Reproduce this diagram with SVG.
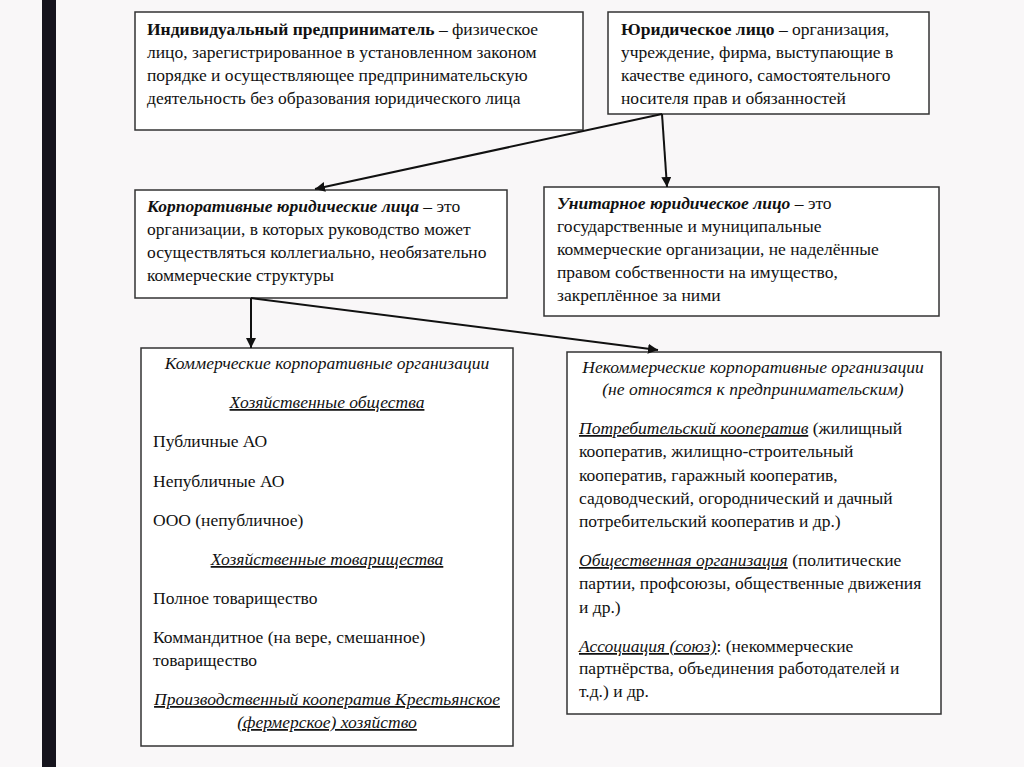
<svg xmlns="http://www.w3.org/2000/svg" width="1024" height="767" viewBox="0 0 1024 767">
<defs>
<style>
.bg{fill:#f9f7f8}
.box{fill:#ffffff;stroke:#333333;stroke-width:1.5}
.t text{font-size:17.5px;fill:#111111}
.b{font-weight:bold}
.i{font-style:italic}
.u{text-decoration:underline}
.c{text-anchor:middle}
.ln{stroke:#111111;stroke-width:2;fill:none}
</style>
<marker id="ah" viewBox="0 0 10 10" refX="10" refY="5" markerWidth="10" markerHeight="10" markerUnits="userSpaceOnUse" orient="auto">
<path d="M0,0 L10,5 L0,10 Z" fill="#111111"/>
</marker>
</defs>
<rect class="bg" x="0" y="0" width="1024" height="767"/>
<rect x="42" y="0" width="14" height="767" fill="#16141d"/>

<g class="t" font-family="'Liberation Serif', 'DejaVu Serif', serif">
<g id="node-ip">
<rect class="box" x="135" y="12" width="448" height="118"/>
<text x="147" y="35"><tspan class="b">Индивидуальный предприниматель</tspan> – физическое</text>
<text x="147" y="58">лицо, зарегистрированное в установленном законом</text>
<text x="147" y="81">порядке и осуществляющее предпринимательскую</text>
<text x="147" y="104">деятельность без образования юридического лица</text>
</g>

<g id="node-yl">
<rect class="box" x="608" y="12" width="321" height="102"/>
<text x="621" y="35"><tspan class="b">Юридическое лицо</tspan> – организация,</text>
<text x="621" y="58">учреждение, фирма, выступающие в</text>
<text x="621" y="81">качестве единого, самостоятельного</text>
<text x="621" y="104">носителя прав и обязанностей</text>
</g>

<g id="node-corp">
<rect class="box" x="135" y="190" width="372" height="108"/>
<text x="147" y="212"><tspan class="b i">Корпоративные юридические лица</tspan> – это</text>
<text x="147" y="235">организации, в которых руководство может</text>
<text x="147" y="258">осуществляться коллегиально, необязательно</text>
<text x="147" y="281">коммерческие структуры</text>
</g>

<g id="node-unit">
<rect class="box" x="544" y="187" width="395" height="129"/>
<text x="557" y="209"><tspan class="b i">Унитарное юридическое лицо</tspan> – это</text>
<text x="557" y="232">государственные и муниципальные</text>
<text x="557" y="255">коммерческие организации, не наделённые</text>
<text x="557" y="278">правом собственности на имущество,</text>
<text x="557" y="301">закреплённое за ними</text>
</g>

<g id="node-comm">
<rect class="box" x="141" y="348" width="372" height="398"/>
<text class="i c" x="327" y="369">Коммерческие корпоративные организации</text>
<text class="i u c" x="327" y="408">Хозяйственные общества</text>
<text x="153" y="447">Публичные АО</text>
<text x="153" y="487">Непубличные АО</text>
<text x="153" y="526">ООО (непубличное)</text>
<text class="i u c" x="327" y="565">Хозяйственные товарищества</text>
<text x="153" y="604">Полное товарищество</text>
<text x="153" y="643">Коммандитное (на вере, смешанное)</text>
<text x="153" y="666">товарищество</text>
<text class="i u c" x="327" y="705">Производственный кооператив Крестьянское</text>
<text class="i u c" x="327" y="728">(фермерское) хозяйство</text>
</g>

<g id="node-noncomm">
<rect class="box" x="567" y="352" width="374" height="362"/>
<text class="i c" x="753" y="373">Некоммерческие корпоративные организации</text>
<text class="i c" x="753" y="395">(не относятся к предпринимательским)</text>
<text x="579" y="434"><tspan class="i u">Потребительский кооператив</tspan> (жилищный</text>
<text x="579" y="457">кооператив, жилищно-строительный</text>
<text x="579" y="481">кооператив, гаражный кооператив,</text>
<text x="579" y="504">садоводческий, огороднический и дачный</text>
<text x="579" y="527">потребительский кооператив и др.)</text>
<text x="579" y="566"><tspan class="i u">Общественная организация</tspan> (политические</text>
<text x="579" y="589">партии, профсоюзы, общественные движения</text>
<text x="579" y="613">и др.)</text>
<text x="579" y="652"><tspan class="i u">Ассоциация (союз)</tspan>: (некоммерческие</text>
<text x="579" y="674">партнёрства, объединения работодателей и</text>
<text x="579" y="697">т.д.) и др.</text>
</g>
</g>

<g id="connectors">
<line class="ln" x1="662" y1="114" x2="315" y2="189" marker-end="url(#ah)"/>
<line class="ln" x1="662" y1="114" x2="667" y2="187" marker-end="url(#ah)"/>
<line class="ln" x1="251" y1="298" x2="251" y2="348" marker-end="url(#ah)"/>
<line class="ln" x1="251" y1="298" x2="658" y2="350" marker-end="url(#ah)"/>
</g>
</svg>
